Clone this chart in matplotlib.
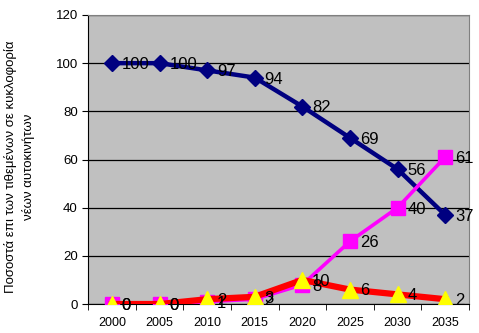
import matplotlib
matplotlib.use("Agg")
import matplotlib.pyplot as plt

plt.rcParams['font.family'] = ['Liberation Sans', 'DejaVu Sans']

years = ['2000', '2005', '2010', '2015', '2020', '2025', '2030', '2035']
conventional = [100, 100, 97, 94, 82, 69, 56, 37]
plugin = [0, 0, 1, 2, 8, 26, 40, 61]
hybrid = [0, 0, 2, 3, 10, 6, 4, 2]

fig = plt.figure(figsize=(4.79, 3.33), dpi=100)
ax = fig.add_axes([0.184, 0.087, 0.795, 0.868])
ax.set_facecolor('#C0C0C0')

x = list(range(len(years)))

ax.plot(x, conventional, color='#000080', lw=3.2, marker='D', ms=8.5,
        mfc='#000080', mec='#000080', zorder=3)
ax.plot(x, plugin, color='#FF00FF', lw=2.6, marker='s', ms=10.5,
        mfc='#FF00FF', mec='#FF00FF', zorder=4)
ax.plot(x, hybrid, color='#FF0000', lw=4.5, marker='^', ms=11,
        mfc='#FFFF00', mec='#FFFF00', zorder=5)

# data labels to the right of each point
for series in (conventional, plugin, hybrid):
    for i, v in enumerate(series):
        ax.annotate(str(v), (i, v), xytext=(7, -1), textcoords='offset points',
                    ha='left', va='center', fontsize=12, zorder=6)

ax.set_xlim(-0.5, len(years) - 0.5)
ax.set_ylim(0, 120)
ax.set_yticks(range(0, 121, 20))
ax.yaxis.grid(True, color='black', lw=0.9)
ax.set_axisbelow(True)

ax.set_xticks(x)
ax.set_xticklabels(years, fontsize=9)
ax.set_xticks([i + 0.5 for i in range(-1, len(years))], minor=True)
ax.tick_params(axis='x', which='major', length=0, pad=9)
ax.tick_params(axis='x', which='minor', length=4, direction='out')
ax.tick_params(axis='y', length=4, direction='out', labelsize=9.5)

for side in ('top', 'right'):
    ax.spines[side].set_color('#808080')
for side in ('left', 'bottom'):
    ax.spines[side].set_color('black')

fig.text(0.04, 0.5, 'Ποσοστά επι των τιθεμένων σε κυκλοφορία\nνέων αυτοκινήτων',
         rotation=90, ha='center', va='center', fontsize=9.5, linespacing=1.5)

fig.savefig('out.png', dpi=100)
